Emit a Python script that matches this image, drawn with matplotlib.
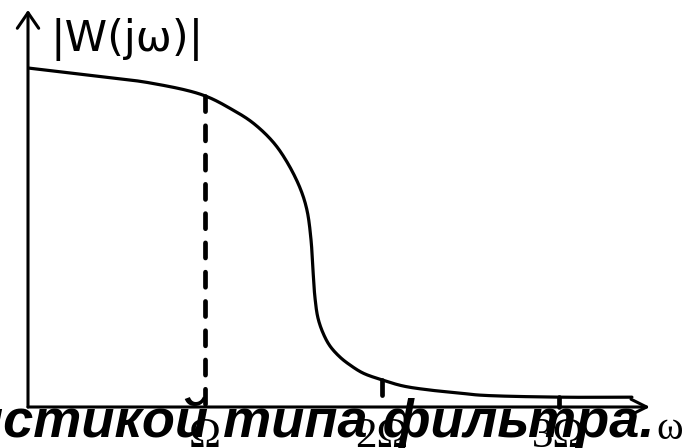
import matplotlib
matplotlib.use("Agg")
import matplotlib.pyplot as plt
import numpy as np

# ---- data (omega in units of Omega, |W| normalised) ----
omega = [0.000, 0.407, 0.689, 0.989, 1.158, 1.271, 1.384, 1.463, 1.537, 1.576,
         1.599, 1.610, 1.621, 1.638, 1.667, 1.706, 1.763, 1.819, 1.893, 2.000,
         2.119, 2.271, 2.441, 2.554, 3.006, 3.412]
mag = [1.000, 0.975, 0.956, 0.920, 0.876, 0.838, 0.782, 0.723, 0.646, 0.581,
       0.493, 0.404, 0.324, 0.263, 0.218, 0.180, 0.147, 0.124, 0.100, 0.080,
       0.062, 0.050, 0.041, 0.035, 0.029, 0.029]
tick_pos = [1, 2, 3]
tick_val = [0.918, 0.079, 0.029]
tick_labels = ["Ω", "2Ω", "3Ω"]
y_label = "|W(jω)|"
x_label = "ω"
overlay = "истикой типа фильтра."

W, H = 693, 448
fig = plt.figure(figsize=(W / 100, H / 100), dpi=100)
sx, sy = 177.0, 339.0
x0, y0 = 28, 407
ax = fig.add_axes([x0 / W, (H - y0) / H, (W - x0) / W, y0 / H])
ax.set_xlim(0, (W - x0) / sx)
ax.set_ylim(0, y0 / sy)
ax.axis("off")


def smooth_path(xs, ys, n=20):
    """Centripetal Catmull-Rom rendering of a line through the given points."""
    P = np.column_stack([xs, ys]) * np.array([sx, sy])
    P = np.vstack([2 * P[0] - P[1], P, 2 * P[-1] - P[-2]])
    out = []
    for i in range(1, len(P) - 2):
        p0, p1, p2, p3 = P[i - 1], P[i], P[i + 1], P[i + 2]
        t0 = 0.0
        t1 = t0 + np.linalg.norm(p1 - p0) ** 0.5
        t2 = t1 + np.linalg.norm(p2 - p1) ** 0.5
        t3 = t2 + np.linalg.norm(p3 - p2) ** 0.5
        t = np.linspace(t1, t2, n, endpoint=False)[:, None]
        a1 = (t1 - t) / (t1 - t0) * p0 + (t - t0) / (t1 - t0) * p1
        a2 = (t2 - t) / (t2 - t1) * p1 + (t - t1) / (t2 - t1) * p2
        a3 = (t3 - t) / (t3 - t2) * p2 + (t - t2) / (t3 - t2) * p3
        b1 = (t2 - t) / (t2 - t0) * a1 + (t - t0) / (t2 - t0) * a2
        b2 = (t3 - t) / (t3 - t1) * a2 + (t - t1) / (t3 - t1) * a3
        c = (t2 - t) / (t2 - t1) * b1 + (t - t1) / (t2 - t1) * b2
        out.append(c)
    out.append(P[-2][None, :])
    Q = np.vstack(out) / np.array([sx, sy])
    return Q[:, 0], Q[:, 1]


lw_axis = 2.2
# axes with arrows
ax.annotate("", xy=(0, (y0 - 10) / sy), xytext=(0, 0),
            arrowprops=dict(arrowstyle="->,head_length=0.8,head_width=0.55",
                            lw=lw_axis, color="black", mutation_scale=14,
                            shrinkA=0, shrinkB=0), annotation_clip=False)
ax.annotate("", xy=((650 - x0) / sx, 0), xytext=(0, 0),
            arrowprops=dict(arrowstyle="->,head_length=0.8,head_width=0.4",
                            lw=lw_axis, color="black", mutation_scale=14,
                            shrinkA=0, shrinkB=0), annotation_clip=False)

# curve
cx, cy = smooth_path(omega, mag)
ax.plot(cx, cy, color="black", lw=2.3, solid_capstyle="round",
        solid_joinstyle="round")

# dashed verticals
for xp, yv in zip(tick_pos, tick_val):
    ax.plot([xp, xp], [yv, 0], color="black", lw=3.4, linestyle=(0, (3.2, 3.0)),
            dash_capstyle="round", clip_on=False)

# tick labels
for xp, lab in zip(tick_pos, tick_labels):
    ax.text(xp, -0.118, lab, ha="center", va="baseline",
            fontsize=31, family="Liberation Serif", clip_on=False)

# y label
ax.text((50 - x0) / sx, (y0 - 51) / sy, y_label, ha="left", va="baseline",
        fontsize=31, family="DejaVu Sans")

# x label
ax.text((656 - x0) / sx, (y0 - 439) / sy, x_label, ha="left", va="baseline",
        fontsize=29, family="Liberation Serif", clip_on=False)

# overlay text
ax.text((-30 - x0) / sx, (y0 - 437) / sy, overlay, ha="left", va="baseline",
        fontsize=39.0, family="Liberation Sans", fontweight="bold",
        fontstyle="italic", clip_on=False)

fig.savefig("out.png", dpi=100)
